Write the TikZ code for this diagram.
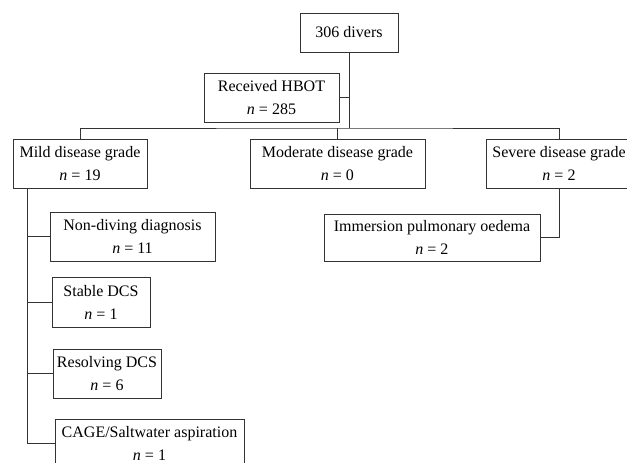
\documentclass[tikz,border=0pt]{standalone}
\usepackage{fontspec}
\setmainfont{Liberation Serif}
\usetikzlibrary{positioning}

\begin{document}
\begin{tikzpicture}[x=1pt,y=-1pt,line width=1pt,
		box/.style={draw=black!80,align=center,inner sep=0pt,minimum height=49pt,font=\fontsize{16}{23}\selectfont},
		link/.style={draw=black!80}]
		\useasboundingbox (0,0) rectangle (627,463);
		\node[box,minimum width=98pt,minimum height=39pt] (divers) at (349,32.5) {306 divers};
		\node[box,minimum width=135pt] (hbot) at (271.5,97.5) {Received HBOT\\\textit{n} = 285};
		\node[box,minimum width=134pt] (mild) at (80,163.5) {Mild disease grade\\\textit{n} = 19};
		\node[box,minimum width=175pt] (moderate) at (337.5,163.5) {Moderate disease grade\\\textit{n} = 0};
		\node[box,minimum width=146pt] (severe) at (559,163.5) {Severe disease grade\\\textit{n} = 2};
		\node[box,minimum width=216pt,minimum height=47pt] (ipo) at (432,237.5) {Immersion pulmonary oedema\\\textit{n} = 2};
		\node[box,minimum width=165pt] (nondiv) at (132.5,236.5) {Non-diving diagnosis\\\textit{n} = 11};
		\node[box,minimum width=98pt,minimum height=50pt] (stable) at (101,302) {Stable DCS\\\textit{n} = 1};
		\node[box,minimum width=108pt] (resolving) at (107,373.5) {Resolving DCS\\\textit{n} = 6};
		\node[box,minimum width=189pt] (cage) at (149.5,443.5) {CAGE/Saltwater aspiration\\\textit{n} = 1};
		% tree lines
		\coordinate (bus) at (349,128);
		\coordinate (spine) at (27,188);
		\draw[link] (divers) -- (bus);
		\draw[link] (hbot.east) -- (hbot.east -| divers.south);
		\draw[link] (mild.north) |- (bus) -| (severe.north);
		\draw[link] (moderate.north) -- (moderate.north |- bus);
		\draw[link] (severe.south) |- (ipo.east);
		\draw[link] (spine) |- (cage.west);
		\foreach \n in {nondiv,stable,resolving}
			\draw[link] (\n.west) -- (\n.west -| spine);
\end{tikzpicture}
\end{document}
